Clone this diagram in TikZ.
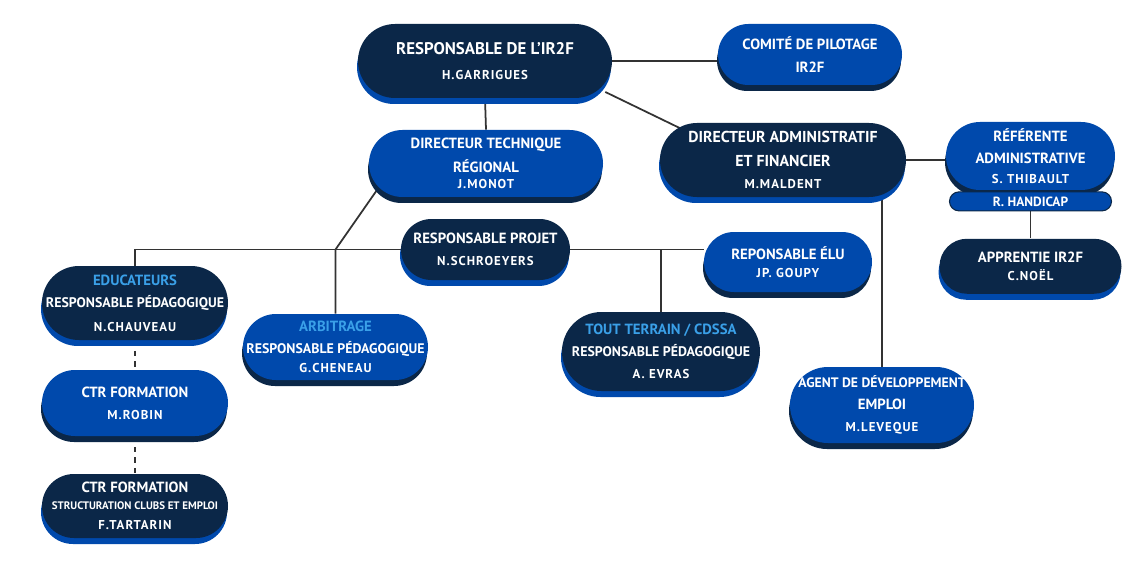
\documentclass[tikz,border=0pt]{standalone}
\usepackage{fontspec}
\setmainfont{PT Sans}
\usepackage{tikz}
\usetikzlibrary{shadows, backgrounds, positioning, calc}

\definecolor{marine}{HTML}{0B2748}
\definecolor{roi}{HTML}{0049AC}
\definecolor{ciel}{HTML}{3AA0E8}
\definecolor{trait}{HTML}{333333}

\newlength\unitpx
\setlength\unitpx{0.02cm}
\newcommand\nom[1]{{\fontsize{7.3}{12.5}\selectfont\addfontfeatures{LetterSpace=8}#1}}
\newcommand\rubrique[1]{{\color{ciel}#1}}
\newcommand\peda{{\fontsize{7.9}{12.5}\selectfont RESPONSABLE PÉDAGOGIQUE}}

\begin{document}
\begin{tikzpicture}[
			x=0.02cm, y=-0.02cm,
			pill/.style={rectangle, inner sep=0pt, text=white, align=center, font=\bfseries\fontsize{8.4}{12.5}\selectfont},
			taille/.style 2 args={minimum width=#1\unitpx, minimum height=#2\unitpx, rounded corners=#2*0.01cm},
			sombre/.style={pill, fill=marine, drop shadow={shadow xshift=-0.02cm, shadow yshift=-0.12cm, fill=roi, opacity=1}},
			clair/.style={pill, fill=roi, drop shadow={shadow xshift=-0.02cm, shadow yshift=-0.12cm, fill=marine, opacity=1}},
			bandeau/.style={pill, fill=roi, draw=marine, line width=0.6pt, font=\bfseries\fontsize{7.6}{9}\selectfont},
			lien/.style={draw=trait, line width=1pt},
			pointille/.style={lien, dashed}
			]
			\useasboundingbox (0,0) rectangle (1140,571);
			
			% --- Direction ---
			\node[sombre, taille={254}{74}] (resp) at (485,61) {{\fontsize{9.6}{12.5}\selectfont RESPONSABLE DE L’IR2F}\\[2pt]\nom{H.GARRIGUES}};
			\node[clair, taille={184}{61}] (comite) at (810,54.5) {COMITÉ DE PILOTAGE\\[1pt]IR2F};
			\node[clair, taille={234}{67}] (dtr) at (486,163.5) {DIRECTEUR TECHNIQUE\\[1pt]RÉGIONAL\\[-3pt]\nom{J.MONOT}};
			\node[sombre, taille={246}{74}] (daf) at (783,160) {{\fontsize{9}{12.5}\selectfont DIRECTEUR ADMINISTRATIF}\\[1pt]{\fontsize{9}{12.5}\selectfont ET FINANCIER}\\\nom{M.MALDENT}};
			
			% --- Pôle administratif ---
			\node[clair, taille={169}{68}] (ref) at (1030.5,156) {RÉFÉRENTE\\ADMINISTRATIVE\\[-1pt]\nom{S. THIBAULT}};
			\node[bandeau, taille={162}{19}, below=1\unitpx of ref] (handicap) {R. HANDICAP};
			\node[sombre, taille={182}{55}, below=27\unitpx of handicap] (apprentie) {APPRENTIE IR2F\\[-2pt]\nom{C.NOËL}};
			\node[clair, taille={184}{76}] (agent) at (882,405) {{\fontsize{7.8}{12.5}\selectfont AGENT DE DÉVELOPPEMENT}\\EMPLOI\\\nom{M.LEVEQUE}};
			
			% --- Pôle technique ---
			\node[sombre, taille={169}{61}] (projet) at (485.5,249.5) {RESPONSABLE PROJET\\\nom{N.SCHROEYERS}};
			\node[clair, taille={168}{60}] (elu) at (788,262) {REPONSABLE ÉLU\\[-2pt]\nom{JP. GOUPY}};
			\node[sombre, taille={186}{74}] (educ) at (135,303) {\rubrique{EDUCATEURS}\\\peda\\[1pt]\nom{N.CHAUVEAU}};
			\node[clair, taille={185}{66}] (arbitrage) at (335.5,347) {\rubrique{ARBITRAGE}\\\peda\\[-2pt]\nom{G.CHENEAU}};
			\node[sombre, taille={198}{79}] (tout) at (661,351.5) {\rubrique{TOUT TERRAIN / CDSSA}\\\peda\\\nom{A. EVRAS}};
			\node[clair, taille={186}{66}] (ctr1) at (135,403) {CTR FORMATION\\\nom{M.ROBIN}};
			\node[sombre, taille={186}{64}] (ctr2) at (135,506) {CTR FORMATION\\[-3pt]{\fontsize{6.2}{9}\selectfont STRUCTURATION CLUBS ET EMPLOI}\\[-1pt]\nom{F.TARTARIN}};
			
			% --- Liaisons ---
			\begin{scope}[on background layer]
				\draw[lien] (resp.east) -- (resp.east -| comite.west);
				\draw[lien] (resp.south) -- (dtr.north);
				\draw[lien] ($(resp.east)+(-7,31)$) -- ($(daf.west)+(20,-32)$);
				\coordinate (jonction) at (projet.west -| arbitrage.north);
				\draw[lien] ($(dtr.west)+(8,27)$) -- (jonction) -- (arbitrage.north);
				\draw[lien] (projet.west) -- (projet.west -| educ.north) -- (educ.north);
				\draw[lien] (projet.east) -- (projet.east -| elu.west);
				\draw[lien] (projet.east -| tout.north) -- (tout.north);
				\draw[pointille] (educ.south) -- (ctr1.north);
				\draw[pointille] (ctr1.south) -- (ctr2.north);
				\draw[lien] (daf.east) -- (daf.east -| ref.west);
				\draw[lien] (agent.north |- daf.south) -- (agent.north);
				\draw[lien] (handicap.south) -- (apprentie.north);
			\end{scope}
			
		\end{tikzpicture}
\end{document}
